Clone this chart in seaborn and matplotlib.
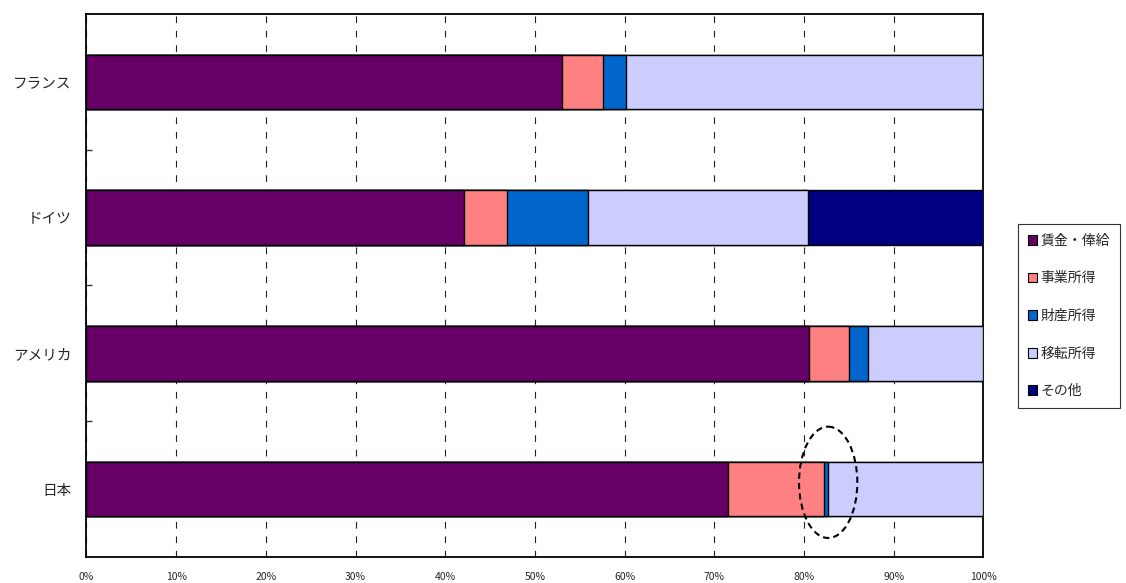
import matplotlib
matplotlib.use("Agg")
import matplotlib.pyplot as plt
from matplotlib.patches import Ellipse, Patch
from matplotlib.ticker import FixedLocator, PercentFormatter
import numpy as np
import pandas as pd
import seaborn as sns

# Income composition by country (share of total, %)
countries = ["フランス", "ドイツ", "アメリカ", "日本"]
components = ["賃金・俸給", "事業所得", "財産所得", "移転所得", "その他"]
wages = [53.0, 42.1, 80.6, 71.5]
business = [4.6, 4.75, 4.4, 10.7]
property_inc = [2.6, 9.05, 2.1, 0.5]
transfers = [39.8, 24.55, 12.9, 17.3]
other = [0.0, 19.55, 0.0, 0.0]
x_ticks = [0, 10, 20, 30, 40, 50, 60, 70, 80, 90, 100]

colors = ["#660066", "#FF8080", "#0066CC", "#CCCCFF", "#000080"]

sns.set_style("white")
plt.rcParams["font.family"] = ["Noto Sans CJK JP", "DejaVu Sans"]

df = pd.DataFrame({
    "country": countries,
    components[0]: wages,
    components[1]: business,
    components[2]: property_inc,
    components[3]: transfers,
    components[4]: other,
})
cum = df[components].cumsum(axis=1)

fig = plt.figure(figsize=(11.26, 5.83), dpi=100)
ax = fig.add_axes([0.0768, 0.0446, 0.7965, 0.9314])

# Stack by drawing cumulative totals from the outermost layer inwards
for comp, col in reversed(list(zip(components, colors))):
    sns.barplot(
        x=cum[comp], y=df["country"], orient="y", ax=ax,
        color=col, saturation=1, width=0.4,
        edgecolor="black", linewidth=1.0, zorder=3,
    )

ax.set_xlim(0, 100)
ax.set_ylim(3.5, -0.5)
ax.set_xlabel("")
ax.set_ylabel("")

ax.xaxis.set_major_locator(FixedLocator(x_ticks))
ax.xaxis.set_major_formatter(PercentFormatter(decimals=0))
ax.tick_params(axis="x", length=0, pad=11, labelsize=7.5)
ax.tick_params(axis="y", which="major", length=0, pad=11, labelsize=10.5)
ax.yaxis.set_minor_locator(FixedLocator([0.5, 1.5, 2.5]))
ax.tick_params(axis="y", which="minor", direction="in", length=4,
               width=1, color="#333333", left=True)

ax.grid(axis="x", color="#222222", linewidth=0.8, linestyle=(0, (6, 7)))
ax.set_axisbelow(True)

for side in ["left", "bottom", "top", "right"]:
    ax.spines[side].set_visible(True)
    ax.spines[side].set_color("black")
    ax.spines[side].set_linewidth(1.3)

# Highlight the small property-income slice for Japan
ax.add_patch(Ellipse((82.7, 2.95), width=6.5, height=0.82, fill=False,
                     edgecolor="black", linewidth=1.5,
                     linestyle=(0, (3, 2)), zorder=5))

handles = [Patch(facecolor=c, edgecolor="black", linewidth=0.8) for c in colors]
leg = fig.legend(handles, components, loc="center left",
                 bbox_to_anchor=(0.904, 0.458), fontsize=10,
                 handlelength=0.7, handleheight=0.7, handletextpad=0.25,
                 labelspacing=1.7, borderpad=0.7, frameon=True,
                 fancybox=False, edgecolor="black", borderaxespad=0)
leg.get_frame().set_linewidth(0.8)

fig.savefig("out.png", dpi=100)
